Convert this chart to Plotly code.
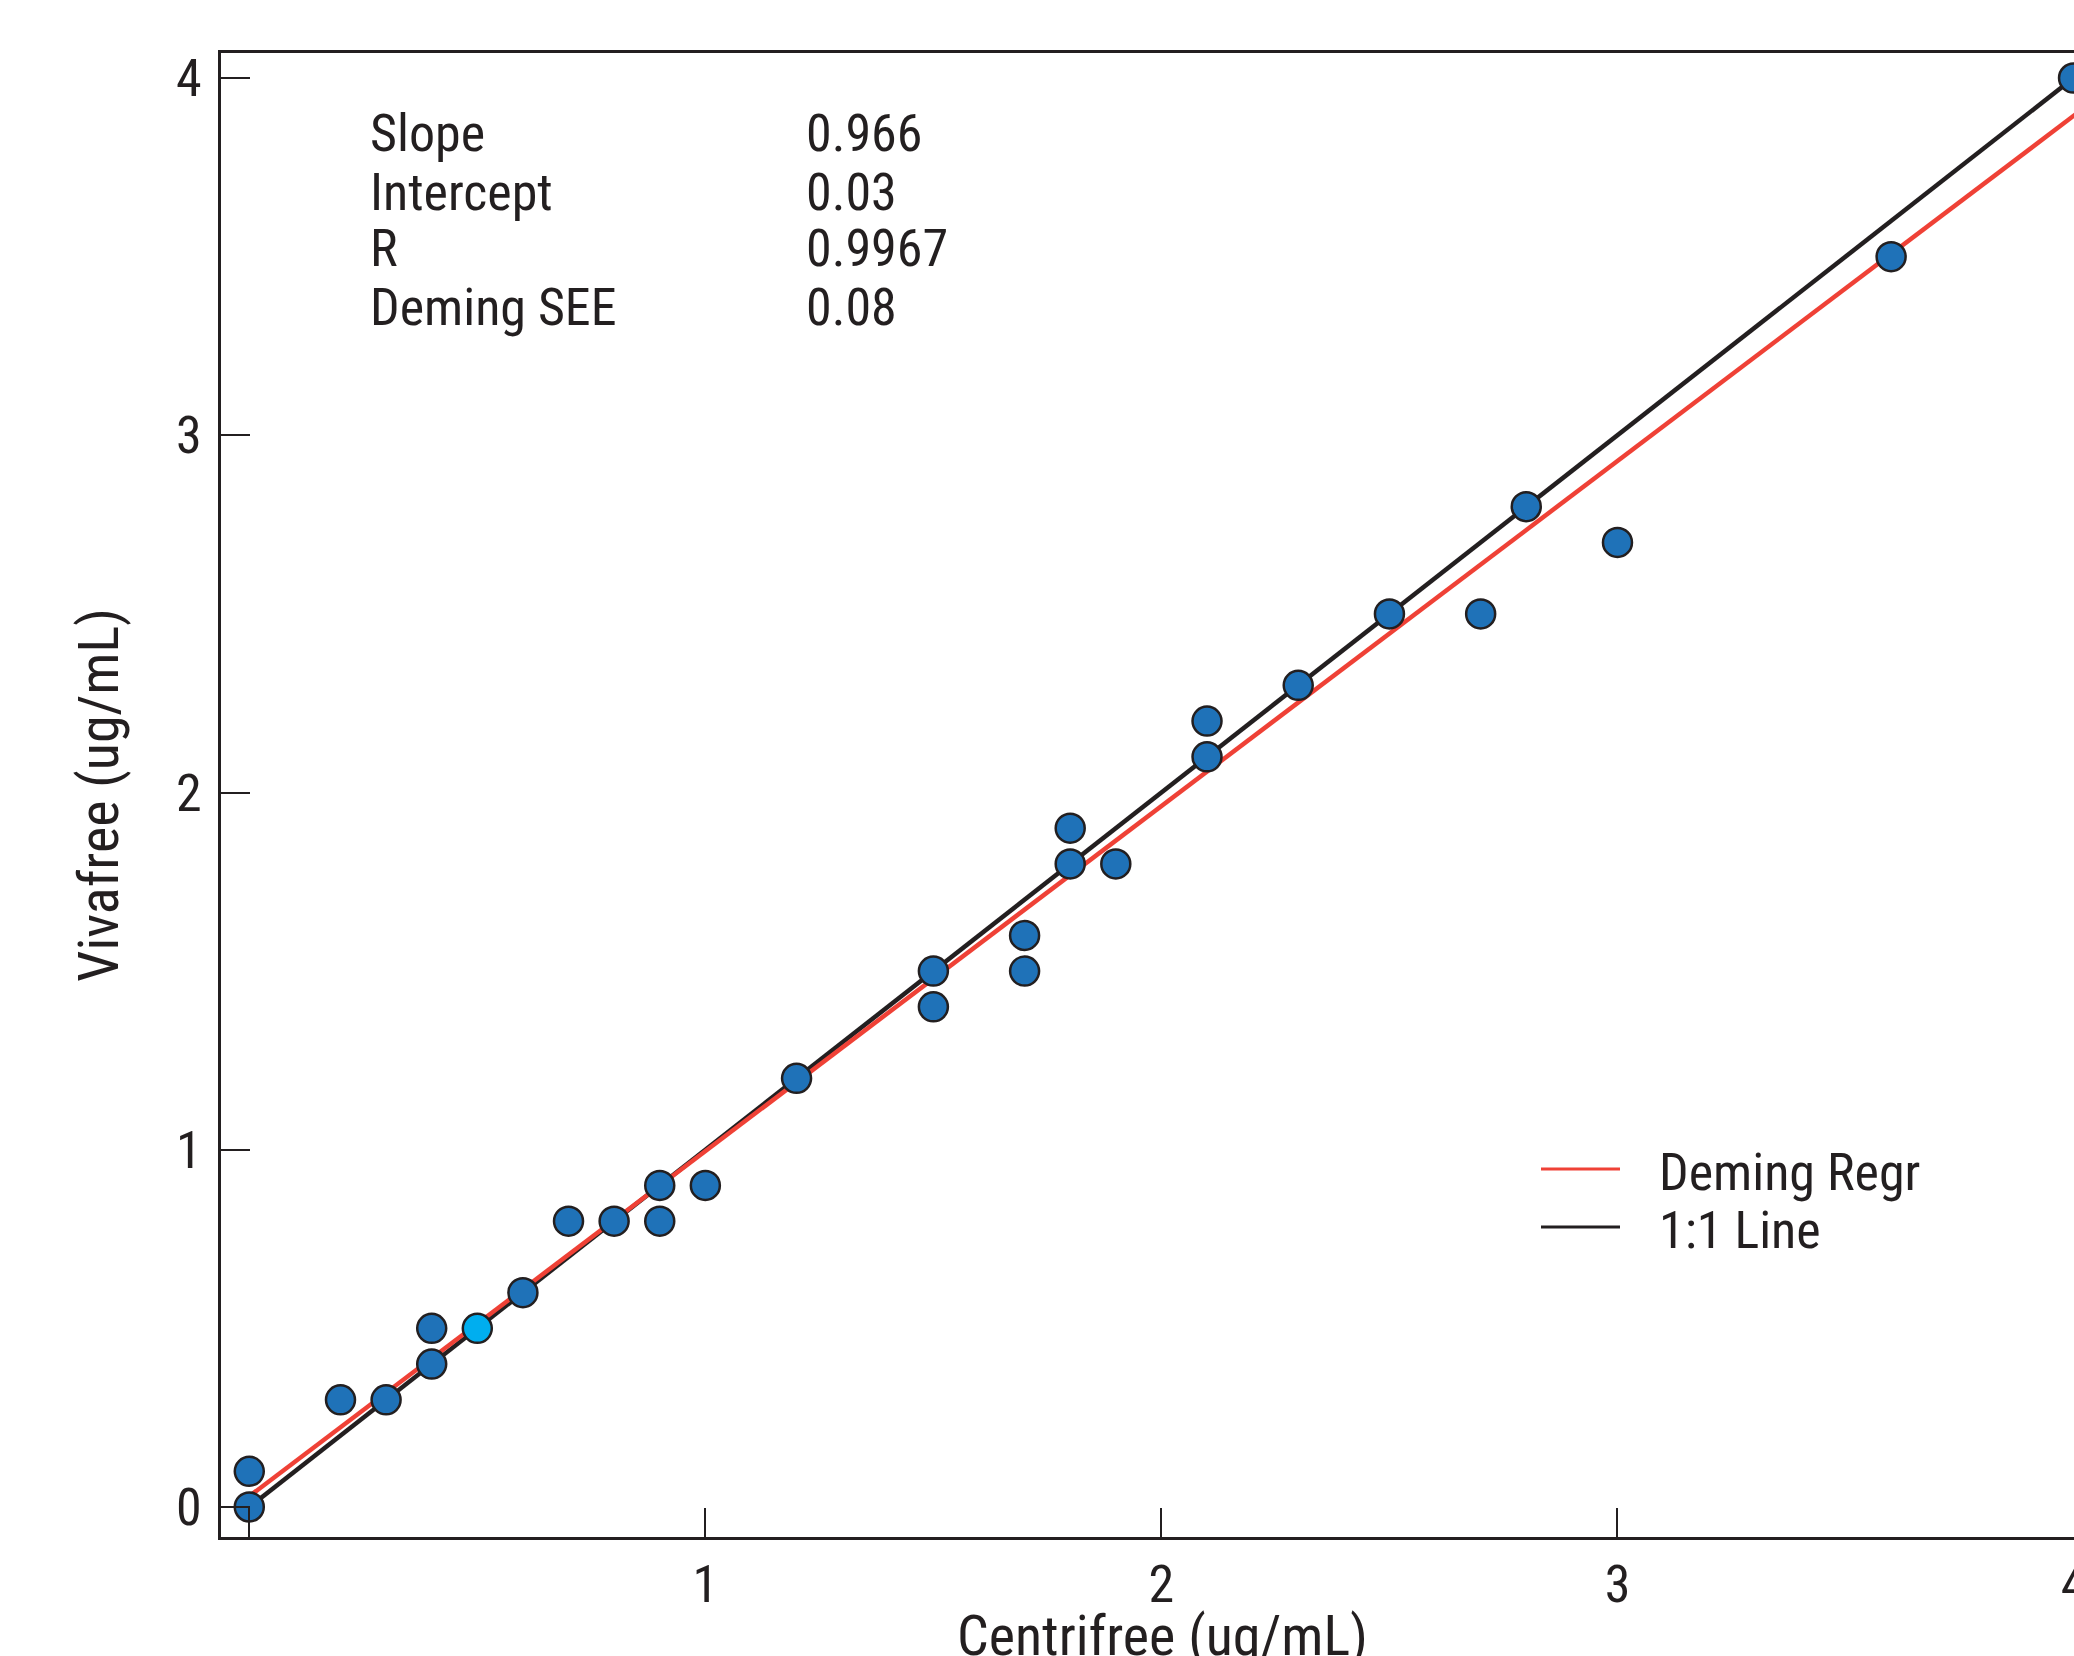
import plotly.graph_objects as go

# Data
centrifree = [0.0, 0.0, 0.2, 0.3, 0.4, 0.4, 0.6, 0.7, 0.8, 0.9, 0.9, 1.0, 1.2, 1.5, 1.5,
              1.7, 1.7, 1.8, 1.8, 1.9, 2.1, 2.1, 2.3, 2.5, 2.7, 2.8, 3.0, 3.6, 4.0]
vivafree = [0.0, 0.1, 0.3, 0.3, 0.5, 0.4, 0.6, 0.8, 0.8, 0.9, 0.8, 0.9, 1.2, 1.5, 1.4,
            1.6, 1.5, 1.9, 1.8, 1.8, 2.2, 2.1, 2.3, 2.5, 2.5, 2.8, 2.7, 3.5, 4.0]
highlight_x = [0.5]
highlight_y = [0.5]

slope = 0.966
intercept = 0.03
line_x = [0.0, 4.2]
deming_y = [slope * v + intercept for v in line_x]
identity_y = list(line_x)

stat_labels = ["Slope", "Intercept", "R", "Deming SEE"]
stat_values = ["0.966", "0.03", "0.9967", "0.08"]
legend_names = ["Deming Regr", "1:1 Line"]
x_title = "Centrifree (ug/mL)"
y_title = "Vivafree (ug/mL)"

x_ticks = [0, 1, 2, 3, 4]
x_ticktext = ["", "1", "2", "3", "4"]
y_ticks = [0, 1, 2, 3, 4]

FONT = "Liberation Sans Narrow, Arial Narrow, Roboto Condensed, Liberation Sans, sans-serif"
INK = "#231f20"
RED = "#ef4136"
BLUE = "#1f72b8"
CYAN = "#00aeef"

fig = go.Figure()
fig.add_trace(go.Scatter(x=line_x, y=identity_y, mode="lines",
                         line=dict(color=INK, width=4.5), name=legend_names[1],
                         showlegend=False))
fig.add_trace(go.Scatter(x=line_x, y=deming_y, mode="lines",
                         line=dict(color=RED, width=4.5), name=legend_names[0],
                         showlegend=False))
fig.add_trace(go.Scatter(x=centrifree, y=vivafree, mode="markers",
                         marker=dict(size=29, color=BLUE, line=dict(color=INK, width=2.5)),
                         showlegend=False, cliponaxis=False))
fig.add_trace(go.Scatter(x=highlight_x, y=highlight_y, mode="markers",
                         marker=dict(size=29, color=CYAN, line=dict(color=INK, width=2.5)),
                         showlegend=False, cliponaxis=False))

W, H = 2074, 1656
L, T, B, R = 221, 53, 119, 0
pw, ph = W - L - R, H - T - B

def px(xp):
    return (xp - L) / pw

def py(yp):
    return (H - B - yp) / ph

annotations = []
rows_y = [134, 192, 249, 307]
for lab, val, yy in zip(stat_labels, stat_values, rows_y):
    annotations.append(dict(x=px(368), y=py(yy), xref="paper", yref="paper", text=lab,
                            showarrow=False, xanchor="left", yanchor="middle",
                            font=dict(size=52, color=INK, family=FONT)))
    annotations.append(dict(x=px(804), y=py(yy), xref="paper", yref="paper", text=val,
                            showarrow=False, xanchor="left", yanchor="middle",
                            font=dict(size=52, color=INK, family=FONT)))

legend_rows = [(legend_names[0], RED, 1169), (legend_names[1], INK, 1227)]
shapes = []
for name, col, yy in legend_rows:
    shapes.append(dict(type="line", xref="paper", yref="paper", x0=px(1541), x1=px(1620),
                       y0=py(yy), y1=py(yy), line=dict(color=col, width=3)))
    annotations.append(dict(x=px(1657), y=py(yy + 3), xref="paper", yref="paper", text=name,
                            showarrow=False, xanchor="left", yanchor="middle",
                            font=dict(size=52, color=INK, family=FONT)))

# x-axis title (placed as a paper annotation so it can sit partly below the page edge)
annotations.append(dict(x=px(1162), y=py(1636), xref="paper", yref="paper", text=x_title,
                        showarrow=False, xanchor="center", yanchor="middle",
                        font=dict(size=56, color=INK, family=FONT)))

fig.update_layout(
    width=W, height=H,
    margin=dict(l=L, r=R, t=T, b=B, autoexpand=False),
    paper_bgcolor="white", plot_bgcolor="white",
    font=dict(family=FONT, size=52, color=INK),
    annotations=annotations, shapes=shapes,
    xaxis=dict(range=[-0.062, 4.001], tickvals=x_ticks, ticktext=x_ticktext,
               ticks="inside", ticklen=29, tickwidth=2, tickcolor=INK,
               showline=True, linecolor=INK, linewidth=3, mirror=True,
               showgrid=False, zeroline=False, ticklabelstandoff=0,
               ticklabeloverflow="allow",
               tickfont=dict(size=52, family=FONT, color=INK)),
    yaxis=dict(range=[-0.084, 4.07], tickvals=y_ticks,
               ticks="inside", ticklen=29, tickwidth=2, tickcolor=INK,
               showline=True, linecolor=INK, linewidth=3, mirror=True,
               showgrid=False, zeroline=False, ticklabelstandoff=6,
               tickfont=dict(size=52, family=FONT, color=INK),
               title=dict(text=y_title, standoff=40,
                          font=dict(size=56, family=FONT, color=INK))),
)

fig.write_html("out.html", config={"displayModeBar": False},
               post_script="document.body.style.margin='0';document.body.style.overflow='hidden';")
